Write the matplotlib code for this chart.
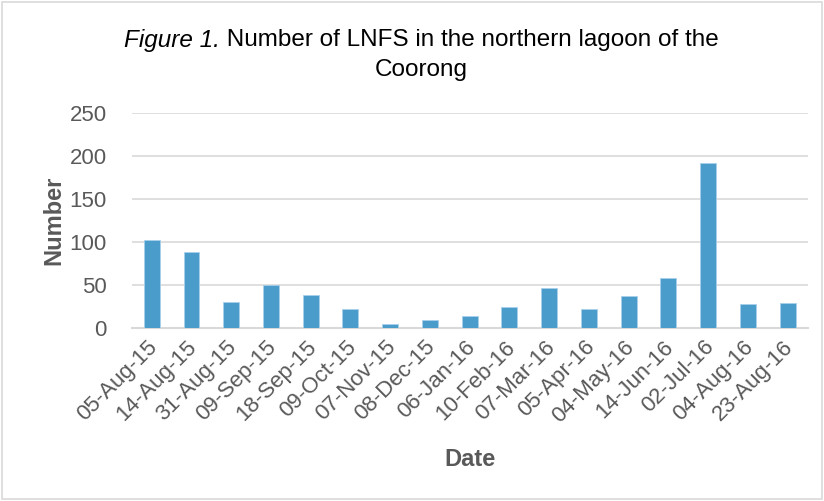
import matplotlib.pyplot as plt
import matplotlib.transforms as mtransforms
import numpy as np
from matplotlib.patches import Rectangle

plt.rcParams['font.family'] = ['Liberation Sans', 'DejaVu Sans']

dates = ["05-Aug-15", "14-Aug-15", "31-Aug-15", "09-Sep-15", "18-Sep-15",
         "09-Oct-15", "07-Nov-15", "08-Dec-15", "06-Jan-16", "10-Feb-16",
         "07-Mar-16", "05-Apr-16", "04-May-16", "14-Jun-16", "02-Jul-16",
         "04-Aug-16", "23-Aug-16"]
counts = [102, 88, 31, 50, 39, 22, 5, 9, 14, 25, 47, 22, 37, 58, 192, 28, 29]
yticks = [0, 50, 100, 150, 200, 250]

txt = "#595959"
fig = plt.figure(figsize=(8.24, 5.01), dpi=100)
ax = fig.add_axes([0.160, 0.345, 0.820, 0.429])

x = np.arange(len(dates))
ax.bar(x, counts, width=0.4, color="#4a9ccb", edgecolor="#a9d0ea", linewidth=0.6, zorder=3)

ax.set_ylim(0, 250)
ax.set_xlim(-0.5, len(dates) - 0.5)
ax.set_yticks(yticks)
ax.set_yticklabels([str(v) for v in yticks], fontsize=16, color=txt)
ax.set_xticks(x)
ax.set_xticklabels(dates, rotation=45, ha="right", rotation_mode="anchor",
                   fontsize=16, color=txt)
ax.tick_params(axis="y", length=0, pad=18)
ax.tick_params(axis="x", length=0, pad=6)
# nudge the date labels a little to the left
shift = mtransforms.ScaledTranslation(-5 / 100, 0, fig.dpi_scale_trans)
for lab in ax.get_xticklabels():
    lab.set_transform(lab.get_transform() + shift)
ax.grid(axis="y", color="#d9d9d9", lw=1.2, zorder=0)
for s in ["top", "right", "left"]:
    ax.spines[s].set_visible(False)
ax.spines["bottom"].set_color("#d9d9d9")
ax.spines["bottom"].set_linewidth(1.5)

fig.text(54 / 824, 1 - 220 / 501, "Number", fontsize=17, fontweight="bold", color=txt,
         rotation=90, ha="center", va="center")
fig.text(470 / 824, 1 - 459 / 501, "Date", fontsize=17, fontweight="bold", color=txt,
         ha="center", va="center")

# title: italic "Figure 1." followed by plain text, line centred at x=421px
fs = 17.5
r = fig.canvas.get_renderer()
t1 = fig.text(0, 0, "Figure 1.", fontsize=fs, style="italic")
t2 = fig.text(0, 0, " Number of LNFS in the northern lagoon of the", fontsize=fs)
w1 = t1.get_window_extent(r).width
w2 = t2.get_window_extent(r).width
x0 = 421 - (w1 + w2) / 2
y1 = 1 - 40 / 501
t1.set_position((x0 / 824, y1))
t2.set_position(((x0 + w1) / 824, y1))
t1.set_va("center")
t2.set_va("center")
fig.text(421 / 824, 1 - 70 / 501, "Coorong", fontsize=fs, ha="center", va="center")

fig.patches.append(Rectangle((0.002, 0.004), 0.996, 0.992, transform=fig.transFigure,
                             fill=False, edgecolor="#d9d9d9", lw=1.2))

fig.savefig("out.png", dpi=100)
